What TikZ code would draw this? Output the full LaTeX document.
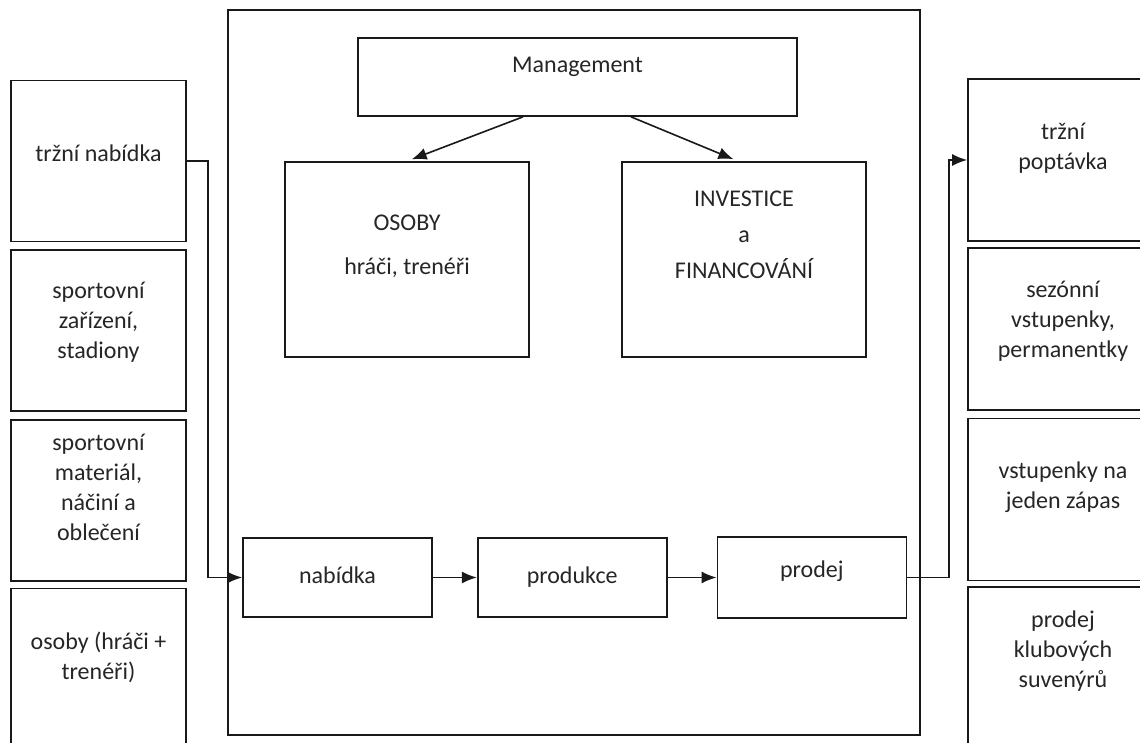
\documentclass[tikz,border=0pt]{standalone}
\usepackage{fontspec}
\setmainfont{Carlito}
\usetikzlibrary{positioning, arrows.meta}
\tikzset{>={Latex[length=15pt,width=12pt]}, x=1pt, y=1pt}

\begin{document}
\begin{tikzpicture}[box/.style={rectangle, draw=black!90, line width=1.7pt, fill=white, text=black!85, align=center, inner sep=0pt, font=\fontsize{24}{30}\selectfont}, side/.style={box, minimum width=175, minimum height=161}, rside/.style={box, minimum width=190, minimum height=162}, step_box/.style={box, minimum width=189, minimum height=79, text height=17pt, text depth=6pt}, lift/.style={text depth=#1}, link/.style={->, line width=1.6pt, draw=black!90}]
    \useasboundingbox (0,0) rectangle (1140,742);
    \clip (0,0) rectangle (1140,742);

    \node[box, minimum width=692, minimum height=725] (club) at (574,369.5) {};

    \node[box, minimum width=439, minimum height=78, lift=24pt] (mgmt) at (577.5,665) {Management};
    \node[box, minimum width=244, minimum height=195, lift=30pt] (osoby) at (407,482.5) {OSOBY\\[14pt]hráči, trenéři};
    \node[box, minimum width=244, minimum height=195, lift=50pt] (invest) at (744,482.5) {INVESTICE\\[6pt]a\\[6pt]FINANCOVÁNÍ};

    \node[step_box] (nabidka) at (337.5,164.5) {nabídka};
    \node[step_box, right=44pt of nabidka] (produkce) {produkce};
    \node[step_box, right=49pt of produkce, minimum height=81, text height=20pt, text depth=20pt] (prodej) {prodej};

    \node[side, lift=16pt] (lmarket) at (98.5,581) {tržní nabídka};
    \node[side, below=7pt of lmarket, lift=20pt] (lvenue) {sportovní\\zařízení,\\stadiony};
    \node[side, below=7pt of lvenue, lift=26pt] (lkit) {sportovní\\materiál,\\náčiní a\\oblečení};
    \node[side, below=6pt of lkit, lift=26pt] (lstaff) {osoby (hráči +\\trenéři)};

    \node[rside, lift=28pt] (rmarket) at (1063,582) {tržní\\poptávka};
    \node[rside, below=5pt of rmarket, lift=18pt] (rseason) {sezónní\\vstupenky,\\permanentky};
    \node[rside, below=7pt of rseason, lift=28pt] (rmatch) {vstupenky na\\jeden zápas};
    \node[rside, below=5pt of rmatch, text height=42pt] (rsouvenir) {prodej\\klubových\\suvenýrů};

    \draw[link, shorten >=5pt] ([xshift=-54.5pt]mgmt.south) -- (osoby.north);
    \draw[link, shorten >=5pt] ([xshift=53.5pt]mgmt.south) -- ([xshift=-6pt]invest.north);

    \draw[link] (lmarket.east) -- ++(21,0) |- (nabidka.west);
    \draw[link] (nabidka) -- (produkce);
    \draw[link] (produkce) -- (produkce -| prodej.west);
    \draw[link] (prodej.east) -- ++(42,0) |- (rmarket.west);
\end{tikzpicture}
\end{document}
